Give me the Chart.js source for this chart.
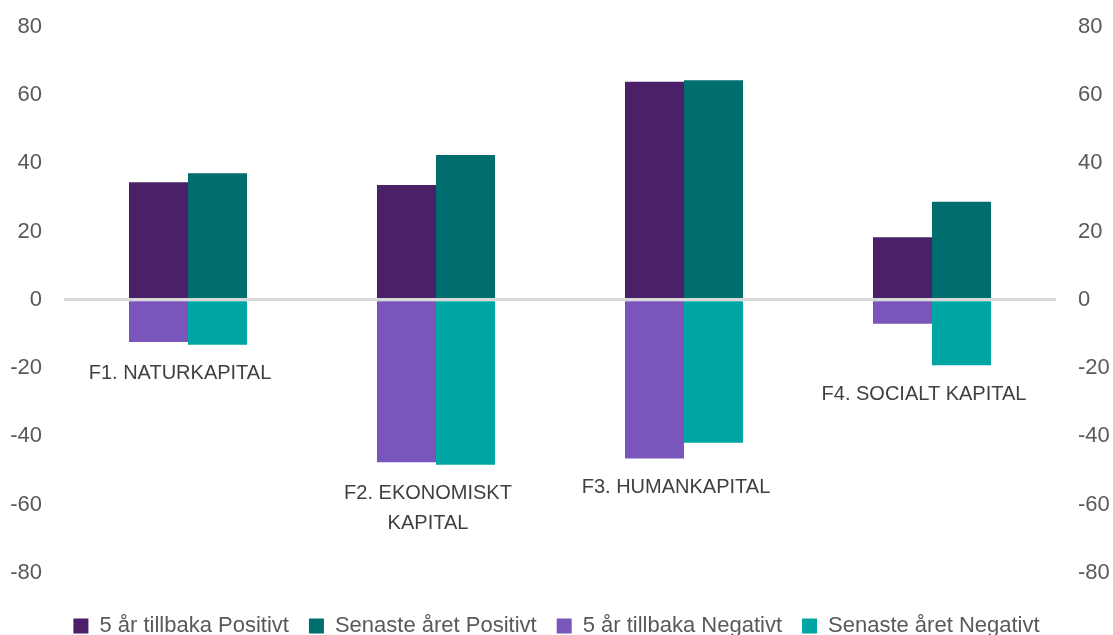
<!DOCTYPE html>
<html>
<head>
<meta charset="utf-8">
<script src="https://cdn.jsdelivr.net/npm/chart.js@4/dist/chart.umd.min.js"></script>
<style>
  html, body { margin: 0; padding: 0; background: #ffffff; }
  #wrap { width: 1113px; height: 635px; position: relative; }
</style>
</head>
<body>
<div id="wrap"><canvas id="c" width="1113" height="635"></canvas></div>
<script>
const categories = ['F1. NATURKAPITAL', ['F2. EKONOMISKT', 'KAPITAL'], 'F3. HUMANKAPITAL', 'F4. SOCIALT KAPITAL'];
const seriesNames = ['5 år tillbaka Positivt', 'Senaste året Positivt', '5 år tillbaka Negativt', 'Senaste året Negativt'];
const femArPositivt = [34.4, 33.6, 63.8, 18.3];
const senasteArPositivt = [37.0, 42.4, 64.3, 28.7];
const femArNegativt = [-12.4, -47.6, -46.5, -7.0];
const senasteArNegativt = [-13.2, -48.3, -41.9, -19.2];
const yTicks = [-80, -60, -40, -20, 0, 20, 40, 60, 80];

const colors = ['#4A2068', '#006E6E', '#7A55BC', '#00A6A4'];
const FONT = "'Liberation Sans', Arial, sans-serif";

const categoryLabelPlugin = {
  id: 'categoryLabels',
  afterDatasetsDraw(chart) {
    const ctx = chart.ctx;
    const xs = chart.scales.x, ys = chart.scales.y;
    ctx.save();
    ctx.font = '20px ' + FONT;
    ctx.fillStyle = '#404040';
    ctx.textAlign = 'center';
    ctx.textBaseline = 'middle';
    categories.forEach((cat, i) => {
      const low = Math.min(0, femArNegativt[i], senasteArNegativt[i]);
      const x = xs.getPixelForValue(i) - 8;
      const y0 = ys.getPixelForValue(low) + 29;
      const lines = Array.isArray(cat) ? cat : [cat];
      lines.forEach((ln, k) => ctx.fillText(ln, x, y0 + k * 29.5));
    });
    ctx.restore();
  }
};

const setTicks = (scale) => { scale.ticks = yTicks.map(v => ({ value: v })); };
const fitY = (w) => (s) => { s.width = w; s.paddingTop = 0; s.paddingBottom = 0; };

new Chart(document.getElementById('c'), {
  type: 'bar',
  data: {
    labels: categories,
    datasets: [
      { label: seriesNames[0], data: femArPositivt, backgroundColor: colors[0], stack: 'a' },
      { label: seriesNames[1], data: senasteArPositivt, backgroundColor: colors[1], stack: 'b' },
      { label: seriesNames[2], data: femArNegativt, backgroundColor: colors[2], stack: 'a' },
      { label: seriesNames[3], data: senasteArNegativt, backgroundColor: colors[3], stack: 'b' }
    ]
  },
  options: {
    responsive: false,
    animation: false,
    devicePixelRatio: 1,
    layout: { padding: { top: 26.5, left: 0, right: 0, bottom: 0 } },
    datasets: { bar: { barPercentage: 1, categoryPercentage: 0.476, borderWidth: 0 } },
    plugins: {
      tooltip: { enabled: false },
      legend: {
        position: 'bottom',
        maxHeight: 40,
        labels: {
          boxWidth: 15, boxHeight: 15, padding: 20,
          color: '#595959',
          font: { family: FONT, size: 22 }
        }
      }
    },
    scales: {
      x: {
        stacked: true,
        grid: { display: false, drawTicks: false },
        border: { display: false },
        ticks: { display: false },
        afterFit: (s) => { s.height = 22; }
      },
      y: {
        stacked: true,
        position: 'left',
        min: -80, max: 80,
        afterBuildTicks: setTicks,
        afterFit: fitY(64),
        grid: {
          z: 1,
          drawTicks: false,
          lineWidth: 3,
          color: (c) => (c.tick && c.tick.value === 0) ? '#D9D9D9' : 'rgba(0,0,0,0)'
        },
        border: { display: false },
        ticks: { padding: 22, color: '#595959', font: { family: FONT, size: 22 } }
      },
      y2: {
        position: 'right',
        min: -80, max: 80,
        afterBuildTicks: setTicks,
        afterFit: fitY(57),
        grid: { display: false, drawTicks: false },
        border: { display: false },
        ticks: { padding: 22, color: '#595959', font: { family: FONT, size: 22 } }
      }
    }
  },
  plugins: [categoryLabelPlugin]
});
</script>
</body>
</html>
